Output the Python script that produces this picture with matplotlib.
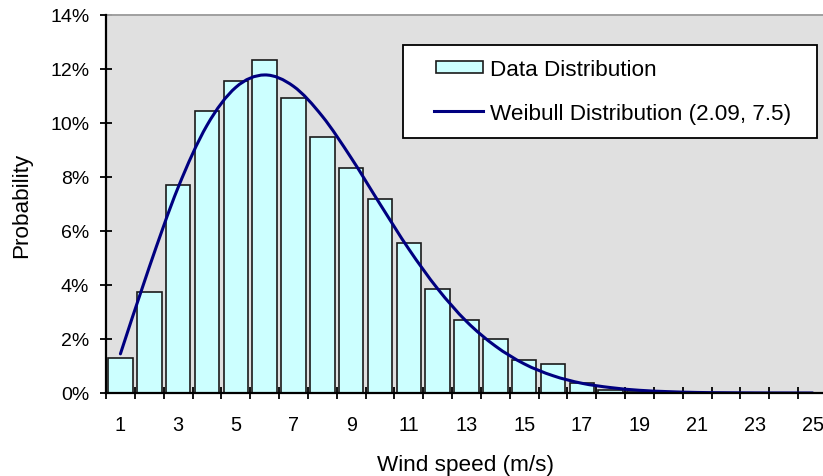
import matplotlib
matplotlib.use("Agg")
import matplotlib.pyplot as plt
from matplotlib.path import Path
from matplotlib.patches import PathPatch, Rectangle
from matplotlib.lines import Line2D
from matplotlib.legend_handler import HandlerBase
from matplotlib.ticker import FixedLocator, FuncFormatter, NullFormatter

plt.rcParams["font.family"] = ["Liberation Sans", "DejaVu Sans"]

# Wind speed classes (m/s) and observed probability per class
wind_speed = list(range(1, 26))
data_prob = [0.0128, 0.0374, 0.0770, 0.1046, 0.1154, 0.1233, 0.1091, 0.0948,
             0.0833, 0.0720, 0.0556, 0.0385, 0.0272, 0.0200, 0.0121, 0.0107,
             0.0036, 0.0011, 0.0006, 0.0, 0.0, 0.0, 0.0, 0.0, 0.0]
# Fitted Weibull curve (k = 2.09, c = 7.5) per class
weibull_prob = [0.0145, 0.0466, 0.0761, 0.0991, 0.1132, 0.1178, 0.1136, 0.1025,
                0.0871, 0.0700, 0.0533, 0.0386, 0.0265, 0.0174, 0.0108, 0.0064,
                0.0036, 0.0020, 0.0010, 0.0005, 0.0002, 0.0001, 0.00004,
                0.00002, 0.00001]
x_tick_values = list(range(1, 26, 2))
y_tick_values = [0.0, 0.02, 0.04, 0.06, 0.08, 0.10, 0.12, 0.14]

bar_label = "Data Distribution"
curve_label = "Weibull Distribution (2.09, 7.5)"

W, H = 823, 477
fig = plt.figure(figsize=(W / 100, H / 100), dpi=100)
fig.patch.set_facecolor("white")
ax = fig.add_axes([106 / W, 1 - 394 / H, 721 / W, 378 / H])
ax.set_facecolor("#e0e0e0")

bars = ax.bar(wind_speed, data_prob, width=0.85, color="#ccffff",
              edgecolor="#1a1a1a", linewidth=1.2, label=bar_label, zorder=2)


def smooth_path(xs, ys):
    """Catmull-Rom style smoothing through the points, as Bezier segments."""
    pts = list(zip(xs, ys))
    verts = [pts[0]]
    codes = [Path.MOVETO]
    n = len(pts)
    for i in range(n - 1):
        p0 = pts[i - 1] if i > 0 else pts[i]
        p1 = pts[i]
        p2 = pts[i + 1]
        p3 = pts[i + 2] if i + 2 < n else pts[i + 1]
        c1 = (p1[0] + (p2[0] - p0[0]) / 6, p1[1] + (p2[1] - p0[1]) / 6)
        c2 = (p2[0] - (p3[0] - p1[0]) / 6, p2[1] - (p3[1] - p1[1]) / 6)
        verts += [c1, c2, p2]
        codes += [Path.CURVE4] * 3
    return Path(verts, codes)


curve_color = "#000080"
ax.add_patch(PathPatch(smooth_path(wind_speed, weibull_prob), fill=False,
                       edgecolor=curve_color, linewidth=2.2, zorder=3,
                       capstyle="round", joinstyle="round"))
curve_handle = Line2D([], [], color=curve_color, linewidth=2.2)

ax.set_xlim(0.5, 25.5)
ax.set_ylim(0, 0.14)

# x: labels at class centres, tick marks between classes
ax.xaxis.set_major_locator(FixedLocator(x_tick_values))
ax.xaxis.set_minor_locator(FixedLocator([v + 0.5 for v in range(0, 26)]))
ax.xaxis.set_minor_formatter(NullFormatter())
ax.tick_params(axis="x", which="major", length=0, pad=16, labelsize=14.3)
ax.tick_params(axis="x", which="minor", direction="inout", length=8,
               width=1.3, color="black")
ax.yaxis.set_major_locator(FixedLocator(y_tick_values))
ax.yaxis.set_major_formatter(FuncFormatter(lambda v, p: f"{v * 100:.0f}%"))
ax.tick_params(axis="y", direction="inout", length=8, width=1.3,
               pad=8, labelsize=14)

for side in ("left", "bottom"):
    ax.spines[side].set_color("black")
    ax.spines[side].set_linewidth(1.6)
    ax.spines[side].set_zorder(4)
ax.spines["top"].set_color("#a0a0a0")
ax.spines["top"].set_linewidth(1.4)
ax.spines["right"].set_color("#a0a0a0")

ax.set_xlabel("Wind speed (m/s)", fontsize=16.2)
ax.xaxis.label.set_va("center")
ax.xaxis.set_label_coords(0.498, -0.188)
ax.set_ylabel("Probability", fontsize=16.2)
ax.yaxis.label.set_va("center")
ax.yaxis.set_label_coords(-0.1165, 0.5)


class RightPatchHandler(HandlerBase):
    def create_artists(self, legend, orig_handle, xdescent, ydescent, width,
                       height, fontsize, trans):
        w, h = 34.0, 8.6
        r = Rectangle((-xdescent + width - w, -ydescent + (height - h) / 2),
                      w, h, facecolor="#ccffff", edgecolor="#1a1a1a",
                      linewidth=1.2, transform=trans)
        return [r]


class RightLineHandler(HandlerBase):
    def create_artists(self, legend, orig_handle, xdescent, ydescent, width,
                       height, fontsize, trans):
        w = 35.5
        y = -ydescent + height / 2
        ln = Line2D([-xdescent + width - w, -xdescent + width], [y, y],
                    color=curve_color, linewidth=2.2, transform=trans)
        return [ln]


leg = ax.legend([bars, curve_handle], [bar_label, curve_label],
                handler_map={type(bars): RightPatchHandler(),
                             Line2D: RightLineHandler()},
                loc="upper left", mode="expand",
                bbox_to_anchor=(403 / W, 1 - 136 / H, 414 / W, 90 / H),
                bbox_transform=fig.transFigure, borderaxespad=0,
                fontsize=16.2, handlelength=2.94, handletextpad=0.3,
                borderpad=0.62, labelspacing=1.03, fancybox=False,
                framealpha=1, edgecolor="black", facecolor="white")
leg.get_frame().set_linewidth(1.3)
leg.set_zorder(5)

fig.savefig("out.png", dpi=100, facecolor="white")
